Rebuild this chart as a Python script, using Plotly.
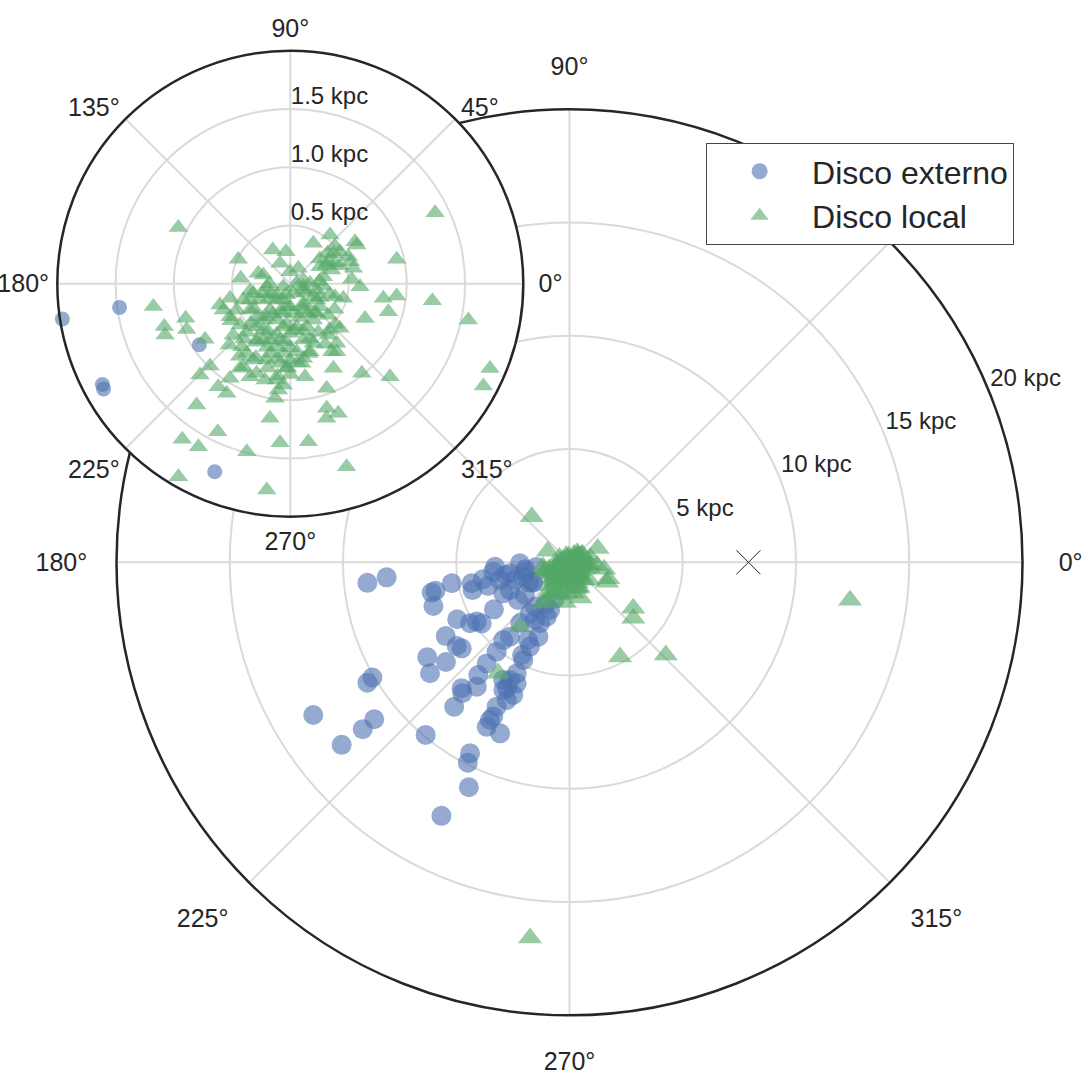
import plotly.graph_objects as go

# ---------------- data (heliocentric distance in kpc, galactic longitude in deg) -------------
ext_r = [8.97, 8.10, 6.23, 6.05, 6.31, 5.28, 4.42, 4.45, 3.90, 3.39, 3.29, 3.23, 2.67, 2.19, 2.14,
         2.90, 3.93, 5.56, 5.15, 4.86, 4.72, 6.36, 6.20, 6.09, 7.55, 7.01, 7.87, 10.39, 10.08,
         6.40, 5.77, 5.09, 4.21, 3.45, 2.85, 2.48, 2.99, 3.56, 4.11, 4.77, 5.43, 5.83, 5.96,
         7.32, 6.85, 4.51, 2.27, 2.60, 13.17, 12.89, 11.73, 11.06, 9.92, 8.16, 7.47, 9.51, 9.92,
         10.88, 12.54, 7.80, 8.13, 8.15, 7.14, 6.68, 6.36, 6.35, 7.60, 2.90, 2.53, 2.01,
         2.17, 2.97, 3.89, 4.60, 5.82, 6.20, 2.44, 2.82, 3.17, 3.75,
         1.48, 1.98, 0.94, 1.83, 1.84, 2.01, 1.74]
ext_theta = [185.8, 184.7, 192.4, 192.0, 197.8, 190.1, 192.1, 196.0, 191.1, 187.0, 183.4, 205.1, 190.5, 181.2, 197.3,
             205.0, 211.9, 206.9, 211.5, 212.6, 214.8, 210.8, 216.6, 218.6, 213.7, 218.9, 218.5, 210.8, 210.3,
             231.0, 230.7, 230.8, 231.3, 231.0, 232.2, 232.2, 244.2, 247.3, 244.9, 244.7, 244.6, 246.4, 240.6,
             229.4, 233.3, 229.6, 247.8, 247.3, 210.8, 218.7, 218.9, 218.8, 230.2, 231.4, 230.7, 242.5, 243.1,
             245.9, 243.2, 243.2, 243.3, 247.9, 243.2, 245.5, 247.0, 242.6, 243.7, 191.1, 198.0, 192.3,
             240.2, 239.1, 241.9, 242.9, 243.2, 243.6, 216.3, 216.2, 194.3, 196.2,
             187.9, 188.8, 213.9, 208.2, 209.4, 206.5, 248.1]

loc_r = [1.384, 1.076, 0.539, 0.662, 0.660, 0.399, 0.326, 0.277, 0.493, 0.937, 0.507, 0.414, 0.196,
         0.149, 0.294, 0.351, 0.374, 0.557, 0.289, 0.243, 0.428, 0.103, 0.528, 0.599, 0.284, 0.115,
         0.808, 0.919, 0.875, 1.228, 1.560, 0.472, 0.400, 0.707, 1.192, 0.946, 1.143, 1.162, 0.972,
         0.631, 0.532, 0.618, 0.874, 0.742, 0.987, 1.102, 1.079, 1.088, 0.963, 0.845, 0.870, 0.855,
         0.835, 0.871, 0.918, 0.992, 0.727, 0.690, 0.808, 0.951, 0.815, 0.707, 0.683, 0.573, 0.548,
         0.648, 0.984, 1.170, 1.862, 1.875, 1.114, 1.186, 1.197, 1.168, 1.315, 1.415, 1.626, 1.607,
         1.490, 1.368, 1.365, 1.644, 1.915, 1.782, 0.608, 0.548, 0.496, 0.586, 0.655, 0.689, 0.686,
         0.728, 0.705, 0.563, 0.683, 0.559, 0.590, 0.413, 0.295, 0.193, 0.152, 0.086, 0.124, 0.227,
         0.322, 0.340, 0.252, 0.255, 0.261, 0.333, 0.285, 0.388, 0.468, 0.374, 0.426, 0.491, 0.514,
         0.373, 0.395, 0.369, 0.266, 0.427, 0.373, 0.512, 0.601, 0.553, 0.622, 0.536, 0.819, 0.821,
         0.116, 0.169, 0.290, 0.233, 0.055, 0.065, 0.204, 0.328, 0.182, 0.197, 0.202,
         0.45, 0.50, 0.42, 0.30, 0.35, 0.62, 0.48, 0.30, 0.58, 0.75, 0.40, 0.22, 0.65, 0.78, 0.52,
         0.44, 0.35, 0.25, 0.45, 0.55,
         0.15, 0.25, 0.35, 0.45, 0.55, 0.65, 0.40, 0.50, 0.60, 0.30, 0.20, 0.10, 0.38, 0.48, 0.58,
         0.70, 0.72, 0.62, 0.52, 0.42, 0.32, 0.22, 0.15, 0.28, 0.38, 0.45, 0.50, 0.42, 0.33, 0.55,
         0.18, 0.35, 0.25, 0.80, 0.68, 0.46, 0.56, 0.66, 0.76, 0.60,
         2.61, 12.5, 16.68, 5.90, 4.74, 3.47, 3.75, 3.59, 5.82, 2.14]
loc_theta = [26.1, 153.3, 50.8, 33.0, 30.2, 60.3, 117.6, 97.7, 154.9, 12.9, 32.8, 39.1, 116.8,
             62.5, 29.8, 27.2, 18.3, 13.7, 162.0, 162.1, 173.8, 91.4, 4.1, 357.5, 356.0, 347.0,
             351.1, 353.4, 344.1, 353.2, 348.5, 344.6, 343.8, 335.1, 189.5, 198.3, 198.8, 202.3, 203.8,
             196.9, 193.6, 201.4, 213.1, 225.1, 225.7, 225.3, 235.0, 239.9, 237.5, 239.3, 246.6, 255.3,
             262.0, 266.0, 263.6, 262.4, 267.6, 278.2, 279.0, 289.2, 297.0, 304.3, 301.3, 318.1, 306.5,
             307.9, 308.6, 317.0, 337.0, 332.1, 286.3, 290.3, 285.1, 261.4, 232.3, 243.9, 235.2, 240.6,
             255.5, 266.3, 276.5, 287.1, 239.9, 263.5, 286.2, 291.1, 283.0, 275.4, 269.8, 262.6, 252.8,
             244.1, 237.9, 239.2, 232.4, 219.4, 208.7, 213.1, 208.3, 205.3, 246.8, 287.4, 334.1, 330.5,
             322.2, 311.7, 296.3, 275.8, 256.7, 249.5, 232.3, 233.4, 232.0, 260.8, 269.7, 259.6, 250.2,
             278.5, 290.9, 302.4, 328.3, 199.1, 202.0, 206.1, 264.3, 257.8, 253.7, 244.4, 240.5, 249.4,
             15.9, 1.2, 12.0, 346.6, 3.6, 203.2, 187.2, 194.5, 230.2, 269.3, 303.6,
             245, 265, 285, 240, 265, 230, 300, 300, 250, 255, 225, 215, 280, 270, 318,
             330, 345, 5, 20, 25,
             220, 250, 235, 255, 270, 260, 275, 290, 300, 285, 260, 250, 215, 225, 240,
             245, 268, 285, 310, 320, 310, 300, 330, 335, 30, 35, 40, 25, 40, 20,
             180, 190, 200, 262, 275, 240, 228, 222, 235, 212,
             129.7, 352.3, 264.0, 316.1, 298.1, 324.2, 318.7, 232.5, 237.3, 237.0]

gc_r = [7.9]
gc_theta = [0.0]

angle_ticks = [0, 45, 90, 135, 180, 225, 270, 315]
angle_text = ["\u00a00°", "45°", "90°", "135°", "180°", "225°", "270°", "315°"]
main_rticks = [5, 10, 15, 20]
main_rtext = ["5 kpc", "10 kpc", "15 kpc", "20 kpc"]
inset_rticks = [0.5, 1.0, 1.5]
inset_rtext = ["0.5 kpc", "1.0 kpc", "1.5 kpc"]

BLUE = "#4C72B0"
GREEN = "#55A868"
DARK = "#262626"
GRID = "#dadada"
FONT = "Liberation Sans, Arial, sans-serif"

# subplot frames (paper fractions)
MAIN_X = [0.10757, 0.94414]
MAIN_Y = [0.05112, 0.89785]
INS_X = [0.05291, 0.48320]
INS_Y = [0.51710, 0.95262]
# label layers: same scale, nudged so labels sit like matplotlib's
MLAB_DX, MLAB_DY = -0.0024, 0.0252
ILAB_DY = 0.0121

fig = go.Figure()

# main polar
fig.add_trace(go.Scatterpolar(r=ext_r, theta=ext_theta, mode="markers", name="Disco externo",
                              subplot="polar",
                              marker=dict(symbol="circle", size=20, color=BLUE, opacity=0.6,
                                          line=dict(width=0))))
fig.add_trace(go.Scatterpolar(r=loc_r, theta=loc_theta, mode="markers", name="Disco local",
                              subplot="polar",
                              marker=dict(symbol="triangle-up", size=21, color=GREEN, opacity=0.6,
                                          line=dict(width=0))))
fig.add_trace(go.Scatterpolar(r=gc_r, theta=gc_theta, mode="markers", showlegend=False, subplot="polar",
                              marker=dict(symbol="x-thin-open", size=24, color=DARK,
                                          line=dict(width=1, color=DARK))))

# inset polar
fig.add_trace(go.Scatterpolar(r=ext_r, theta=ext_theta, mode="markers", name="Disco externo",
                              showlegend=False, subplot="polar2",
                              marker=dict(symbol="circle", size=15, color=BLUE, opacity=0.6,
                                          line=dict(width=0))))
fig.add_trace(go.Scatterpolar(r=loc_r, theta=loc_theta, mode="markers", name="Disco local",
                              showlegend=False, subplot="polar2",
                              marker=dict(symbol="triangle-up", size=17, color=GREEN, opacity=0.6,
                                          line=dict(width=0))))

# empty traces for radial-label layers
fig.add_trace(go.Scatterpolar(r=[], theta=[], mode="markers", showlegend=False, subplot="polar3",
                              hoverinfo="skip"))
fig.add_trace(go.Scatterpolar(r=[], theta=[], mode="markers", showlegend=False, subplot="polar4",
                              hoverinfo="skip"))

angular_common = dict(tickmode="array", tickvals=angle_ticks, ticktext=angle_text,
                      direction="counterclockwise", rotation=0,
                      showgrid=True, gridcolor=GRID, gridwidth=1.5,
                      showline=True, linecolor=DARK, linewidth=2.5,
                      ticks="outside", tickcolor="rgba(0,0,0,0)",
                      tickfont=dict(family=FONT, size=25, color=DARK))

hidden_angular = dict(visible=False, showgrid=False, showline=False, showticklabels=False,
                      direction="counterclockwise", rotation=0)

fig.update_layout(
    width=1083, height=1070,
    margin=dict(l=0, r=0, t=0, b=0),
    paper_bgcolor="white",
    font=dict(family=FONT, color=DARK),
    polar=dict(
        domain=dict(x=MAIN_X, y=MAIN_Y),
        bgcolor="white",
        angularaxis=dict(**angular_common, ticklen=23),
        radialaxis=dict(range=[0, 20], tickmode="array", tickvals=main_rticks,
                        showticklabels=False, angle=22.5,
                        showline=False, ticks="", showgrid=True, gridcolor=GRID, gridwidth=1.5),
    ),
    polar2=dict(
        domain=dict(x=INS_X, y=INS_Y),
        bgcolor="white",
        angularaxis=dict(**angular_common, ticklen=2),
        radialaxis=dict(range=[0, 2], tickmode="array", tickvals=inset_rticks,
                        showticklabels=False, angle=90,
                        showline=False, ticks="", showgrid=True, gridcolor=GRID, gridwidth=1.5),
    ),
    polar3=dict(
        domain=dict(x=[MAIN_X[0] + MLAB_DX, MAIN_X[1] + MLAB_DX],
                    y=[MAIN_Y[0] + MLAB_DY, MAIN_Y[1] + MLAB_DY]),
        bgcolor="rgba(0,0,0,0)",
        angularaxis=hidden_angular,
        radialaxis=dict(range=[0, 20], tickmode="array", tickvals=main_rticks, ticktext=main_rtext,
                        angle=22.5, tickangle=22.5, side="clockwise",
                        showline=False, ticks="", showgrid=False,
                        tickfont=dict(family=FONT, size=24, color=DARK)),
    ),
    polar4=dict(
        domain=dict(x=INS_X, y=[INS_Y[0] + ILAB_DY, INS_Y[1] + ILAB_DY]),
        bgcolor="rgba(0,0,0,0)",
        angularaxis=hidden_angular,
        radialaxis=dict(range=[0, 2], tickmode="array", tickvals=inset_rticks, ticktext=inset_rtext,
                        angle=90, tickangle=90, side="clockwise",
                        showline=False, ticks="", showgrid=False,
                        tickfont=dict(family=FONT, size=24, color=DARK)),
    ),
    legend=dict(x=0.652, y=0.8664, xanchor="left", yanchor="top",
                bgcolor="white", bordercolor="#444444", borderwidth=1, tracegroupgap=0,
                itemwidth=95, font=dict(family=FONT, size=32, color=DARK)),
)

fig.write_html("out.html")
